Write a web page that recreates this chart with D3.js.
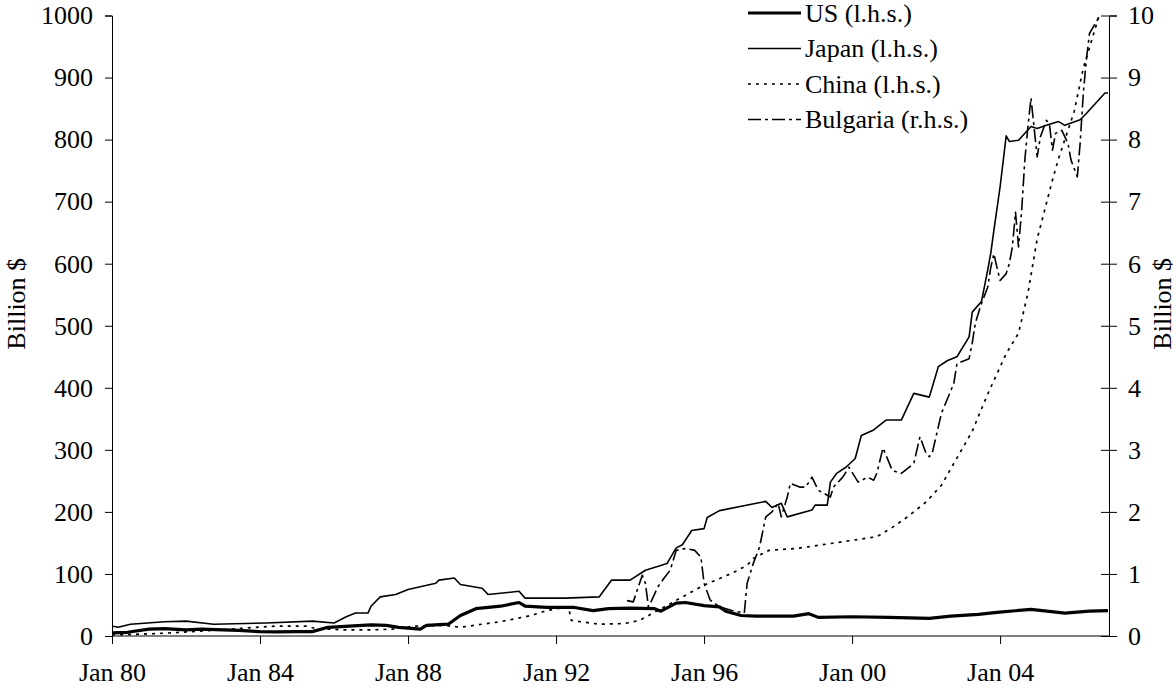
<!DOCTYPE html>
<html>
<head>
<meta charset="utf-8">
<script src="https://cdn.jsdelivr.net/npm/d3@7"></script>
<style>
    body { margin: 0; background: white; }
    svg text { font-family: "Liberation Serif", "Times New Roman", serif; fill: #000; }
</style>
</head>
<body>
<svg id="chart"></svg>
<script>
// Foreign reserves, billion $
const usSeries = [
    ["1980-01", 5], ["1980-06", 6], ["1981-01", 11], ["1981-06", 12], ["1982-01", 10],
    ["1982-06", 11], ["1983-01", 10], ["1983-06", 9], ["1984-01", 7], ["1984-06", 6.5],
    ["1985-01", 7], ["1985-06", 7], ["1985-11", 14], ["1986-06", 16], ["1987-01", 18],
    ["1987-06", 17], ["1987-10", 14], ["1988-05", 11], ["1988-07", 17], ["1989-02", 19],
    ["1989-06", 33], ["1989-11", 44], ["1990-07", 48], ["1991-01", 54], ["1991-03", 48],
    ["1991-10", 46], ["1992-07", 46], ["1993-01", 41], ["1993-06", 44], ["1994-01", 45],
    ["1994-09", 44], ["1994-11", 40], ["1995-04", 53], ["1995-07", 54], ["1996-01", 49],
    ["1996-06", 47], ["1996-08", 40], ["1997-01", 33], ["1997-06", 32], ["1998-06", 32],
    ["1998-11", 36], ["1999-02", 30], ["2000-01", 31], ["2001-01", 30], ["2002-02", 28.5],
    ["2002-09", 32], ["2003-06", 35], ["2003-12", 38], ["2004-11", 43], ["2005-10", 37],
    ["2006-06", 40], ["2006-12", 41]
];

const japanSeries = [
    ["1980-01", 16], ["1980-03", 14], ["1980-07", 19], ["1981-06", 23], ["1982-01", 24],
    ["1982-10", 19], ["1984-03", 21], ["1985-06", 24], ["1986-01", 21], ["1986-05", 31],
    ["1986-08", 37], ["1986-12", 37], ["1987-01", 48], ["1987-04", 63], ["1987-09", 67],
    ["1988-01", 75], ["1988-10", 85], ["1988-11", 90], ["1989-04", 93.5], ["1989-06", 83],
    ["1990-01", 77], ["1990-03", 67], ["1991-01", 72], ["1991-03", 61], ["1992-04", 61],
    ["1993-03", 63], ["1993-07", 90], ["1994-01", 90], ["1994-06", 106], ["1995-01", 117],
    ["1995-04", 142], ["1995-06", 147], ["1995-09", 170], ["1996-01", 173], ["1996-02", 191],
    ["1996-06", 202], ["1997-09", 217], ["1997-11", 207], ["1998-02", 214], ["1998-04", 192],
    ["1998-12", 203], ["1999-01", 211], ["1999-05", 211], ["1999-06", 248], ["1999-08", 262],
    ["1999-11", 272], ["2000-02", 286], ["2000-04", 323], ["2000-08", 332], ["2000-12", 348],
    ["2001-05", 348], ["2001-09", 391], ["2002-02", 385], ["2002-05", 434], ["2002-08", 444],
    ["2002-11", 450], ["2003-03", 482], ["2003-04", 522], ["2003-07", 539], ["2003-09", 590],
    ["2003-10", 617], ["2003-11", 654], ["2004-01", 724], ["2004-03", 806], ["2004-04", 797],
    ["2004-07", 799], ["2004-11", 821], ["2005-01", 818], ["2005-04", 823], ["2005-08", 829],
    ["2005-10", 823], ["2006-03", 832], ["2006-05", 842], ["2006-11", 875], ["2006-12", 875]
];

const chinaSeries = [
    ["1980-01", 2], ["1980-11", 3], ["1981-08", 5], ["1982-01", 6.5], ["1983-06", 12],
    ["1984-06", 16], ["1985-04", 16], ["1985-07", 12], ["1986-04", 10], ["1987-02", 10],
    ["1987-08", 11], ["1988-03", 16], ["1989-01", 17], ["1989-06", 14], ["1990-01", 19],
    ["1990-07", 23], ["1991-05", 33], ["1991-10", 41], ["1992-05", 47], ["1992-06", 25],
    ["1993-03", 19], ["1993-11", 20], ["1994-04", 25], ["1994-10", 41], ["1995-06", 63],
    ["1996-01", 82], ["1996-10", 101], ["1997-03", 114], ["1997-05", 125], ["1997-10", 138],
    ["1998-07", 141], ["1999-06", 149], ["2000-09", 160], ["2001-02", 175], ["2001-07", 192],
    ["2002-01", 216], ["2002-06", 243], ["2002-10", 278], ["2003-04", 330], ["2003-09", 390],
    ["2004-03", 455], ["2004-07", 488], ["2004-10", 552], ["2005-01", 640], ["2005-06", 735],
    ["2005-08", 770], ["2006-01", 845], ["2006-04", 915], ["2006-09", 998], ["2006-12", 1040]
];

// Bulgaria is on the right-hand scale
const bulgariaSeries = [
    ["1993-12", 0.57], ["1994-02", 0.55], ["1994-05", 0.98], ["1994-06", 0.85], ["1994-07", 0.47],
    ["1994-08", 0.57], ["1994-10", 0.79], ["1994-12", 0.93], ["1995-02", 1.06], ["1995-04", 1.38],
    ["1995-07", 1.41], ["1995-10", 1.38], ["1995-12", 1.27], ["1996-01", 0.85], ["1996-03", 0.58],
    ["1996-06", 0.47], ["1996-10", 0.41], ["1997-02", 0.37], ["1997-03", 0.85], ["1997-05", 1.17],
    ["1997-07", 1.43], ["1997-09", 1.92], ["1997-11", 2.0], ["1998-01", 2.14], ["1998-02", 1.92],
    ["1998-04", 2.24], ["1998-05", 2.46], ["1998-08", 2.4], ["1998-10", 2.4], ["1998-12", 2.56],
    ["1999-02", 2.35], ["1999-06", 2.24], ["1999-07", 2.4], ["1999-10", 2.56], ["1999-12", 2.72],
    ["2000-03", 2.48], ["2000-06", 2.56], ["2000-08", 2.51], ["2000-09", 2.62], ["2000-11", 3.03],
    ["2001-02", 2.67], ["2001-05", 2.62], ["2001-09", 2.78], ["2001-11", 3.21], ["2002-01", 2.94],
    ["2002-02", 2.89], ["2002-03", 2.94], ["2002-06", 3.59], ["2002-10", 4.07], ["2002-11", 4.39],
    ["2003-03", 4.47], ["2003-04", 4.72], ["2003-05", 5.04], ["2003-07", 5.36], ["2003-09", 5.62],
    ["2003-10", 5.94], ["2003-11", 6.16], ["2003-12", 5.94], ["2004-01", 5.73], ["2004-03", 5.84],
    ["2004-04", 6.0], ["2004-05", 6.27], ["2004-06", 6.83], ["2004-07", 6.27], ["2004-08", 6.86],
    ["2004-09", 7.67], ["2004-10", 8.2], ["2004-11", 8.67], ["2004-12", 8.2], ["2005-01", 7.72],
    ["2005-02", 8.04], ["2005-04", 8.31], ["2005-05", 8.26], ["2005-06", 7.83], ["2005-07", 8.1],
    ["2005-09", 8.15], ["2005-11", 7.94], ["2005-12", 7.67], ["2006-02", 7.4], ["2006-03", 7.94],
    ["2006-04", 8.74], ["2006-05", 9.28], ["2006-06", 9.71], ["2006-09", 9.97], ["2006-12", 10.3]
];

const leftTicks = [0, 100, 200, 300, 400, 500, 600, 700, 800, 900, 1000];
const rightTicks = [0, 1, 2, 3, 4, 5, 6, 7, 8, 9, 10];
const legendLabels = ["US (l.h.s.)", "Japan (l.h.s.)", "China (l.h.s.)", "Bulgaria (r.h.s.)"];

const svg = d3.select("#chart");
const width = 1176;
const height = 690;
const fontSize = 26;
const plot = { left: 112, right: 1109, top: 15.5, bottom: 636 };

svg.attr("width", width).attr("height", height);

svg.append("rect")
    .attr("width", width)
    .attr("height", height)
    .attr("fill", "white");

const parse = d3.timeParse("%Y-%m");

// Scales
const x = d3.scaleTime()
    .domain([parse("1980-01"), parse("2006-12")])
    .range([plot.left, plot.right - 1]);

const yLeft = d3.scaleLinear().domain([0, 1000]).range([plot.bottom, plot.top]);
const yRight = d3.scaleLinear().domain([0, 10]).range([plot.bottom, plot.top]);

// clip lines that run over the top of the scale
svg.append("clipPath")
    .attr("id", "plot-clip")
    .append("rect")
    .attr("x", plot.left - 2)
    .attr("y", plot.top)
    .attr("width", plot.right - plot.left + 4)
    .attr("height", plot.bottom - plot.top + 10);

// Axes
const leftAxis = d3.axisLeft(yLeft)
    .tickValues(leftTicks)
    .tickFormat(d3.format("d"))
    .tickSize(7)
    .tickPadding(12);
const rightAxis = d3.axisRight(yRight)
    .tickValues(rightTicks)
    .tickFormat(d3.format("d"))
    .tickSize(8)
    .tickPadding(11);
const xAxis = d3.axisBottom(x)
    .ticks(d3.timeYear.every(4))
    .tickSize(8)
    .tickPadding(19)
    .tickFormat(d => "Jan " + d3.timeFormat("%y")(d));

const gLeft = svg.append("g")
    .attr("transform", `translate(${plot.left},0)`)
    .call(leftAxis);

const gRight = svg.append("g")
    .attr("transform", `translate(${plot.right},0)`)
    .call(rightAxis);
// right-hand ticks cross the axis
gRight.selectAll(".tick line").attr("x1", -8);

const gX = svg.append("g")
    .attr("transform", `translate(0,${plot.bottom})`)
    .call(xAxis);
gX.select(".domain").attr("d", `M${plot.left},0H${plot.right}`);

[gLeft, gRight, gX].forEach(g => {
    g.selectAll("path.domain").attr("stroke", "#000").attr("stroke-width", 1);
    g.selectAll(".tick line").attr("stroke", "#000");
    g.selectAll("text")
        .attr("font-size", fontSize)
        .attr("font-family", "Liberation Serif, Times New Roman, serif");
});

// Axis titles
svg.append("text")
    .attr("transform", `translate(25,${(plot.top + plot.bottom) / 2 - 22}) rotate(-90)`)
    .attr("text-anchor", "middle")
    .attr("font-size", fontSize)
    .text("Billion $");

svg.append("text")
    .attr("transform", `translate(1171,${(plot.top + plot.bottom) / 2 - 22}) rotate(-90)`)
    .attr("text-anchor", "middle")
    .attr("font-size", fontSize)
    .text("Billion $");

// Series
const toPoints = s => s.map(([d, v]) => ({ date: parse(d), value: v }));

const lineLeft = d3.line().x(d => x(d.date)).y(d => yLeft(d.value));
const lineRight = d3.line().x(d => x(d.date)).y(d => yRight(d.value));

const styles = [
    { width: 3.2, dash: null },
    { width: 1.6, dash: null },
    { width: 1.7, dash: "3,5" },
    { width: 1.6, dash: "13,4,3,4" }
];

const seriesList = [
    { data: toPoints(usSeries), line: lineLeft, style: styles[0] },
    { data: toPoints(japanSeries), line: lineLeft, style: styles[1] },
    { data: toPoints(chinaSeries), line: lineLeft, style: styles[2] },
    { data: toPoints(bulgariaSeries), line: lineRight, style: styles[3] }
];

const gLines = svg.append("g").attr("clip-path", "url(#plot-clip)");

seriesList.forEach(s => {
    gLines.append("path")
        .datum(s.data)
        .attr("fill", "none")
        .attr("stroke", "#000")
        .attr("stroke-width", s.style.width)
        .attr("stroke-linejoin", "round")
        .attr("stroke-dasharray", s.style.dash)
        .attr("d", s.line);
});

// Legend
const legend = svg.append("g");
const rowStart = 13;
const rowStep = 35.5;

legendLabels.forEach((label, i) => {
    const cy = rowStart + i * rowStep;
    legend.append("line")
        .attr("x1", 748)
        .attr("x2", 801)
        .attr("y1", cy)
        .attr("y2", cy)
        .attr("stroke", "#000")
        .attr("stroke-width", styles[i].width)
        .attr("stroke-dasharray", styles[i].dash);
    legend.append("text")
        .attr("x", 805)
        .attr("y", cy + 8.5)
        .attr("font-size", fontSize)
        .text(label);
});
</script>
</body>
</html>
